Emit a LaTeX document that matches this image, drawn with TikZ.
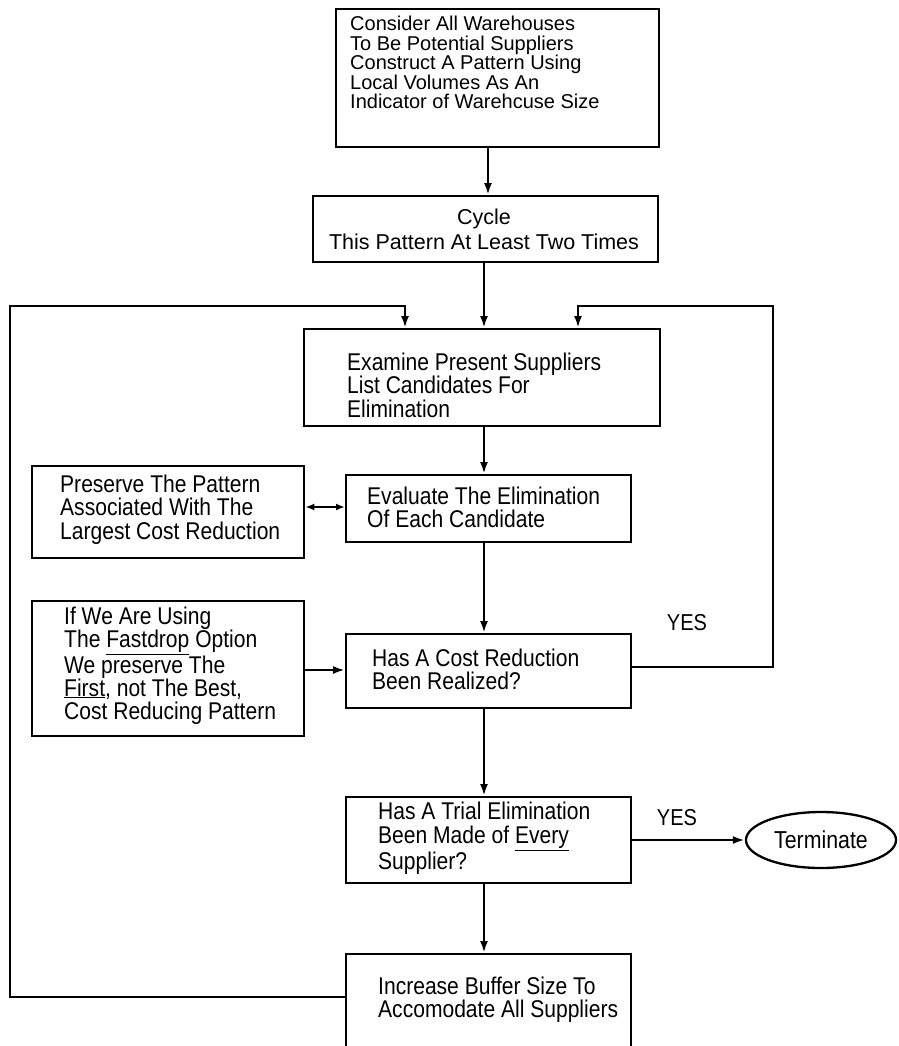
\documentclass[tikz,border=0pt]{standalone}
\usepackage{fontspec}
\setmainfont{Liberation Sans}[FakeBold=0.5]
\newfontfamily\fb{Liberation Sans}[FakeStretch=0.87]
\newfontfamily\fa{Liberation Sans}
\usetikzlibrary{arrows.meta,shapes.geometric,calc}
\begin{document}
\begin{tikzpicture}[x=1pt,y=-1pt,
  box/.style={draw, line width=2.3pt, inner sep=0pt, anchor=north west},
  txt/.style={inner sep=0pt, anchor=base west, align=left, font=\fb\fontsize{24.2}{23.5}\selectfont},
  arr/.style={line width=2.8pt, -{Latex[length=12pt,width=8pt]}},
  arrtwo/.style={line width=2.8pt, {Latex[length=9pt,width=7pt]}-{Latex[length=9pt,width=7pt]}},
  yes/.style={inner sep=0pt, font=\fb\fontsize{23}{23}\selectfont}]
\useasboundingbox (0,0) rectangle (898,1046);
\fill[white] (0,0) rectangle (898,1046);
% boxes
\node[box, minimum width=323pt, minimum height=138pt] (b1) at (335,8) {};
\node[inner sep=0pt, anchor=base west, align=left, font=\fa\fontsize{20}{19.5}\selectfont] (t1) at (350,109)
 {Consider All Warehouses\\To Be Potential Suppliers\\Construct A Pattern Using\\Local Volumes As An\\Indicator of Warehcuse Size};
\node[box, minimum width=345pt, minimum height=66pt] (b2) at (312,195) {};
\node[inner sep=0pt, anchor=base, align=center, font=\fa\fontsize{21.5}{25}\selectfont] (t2) at (484,249)
 {Cycle\\This Pattern At Least Two Times};
\node[box, minimum width=356pt, minimum height=97pt] (b3) at (303,328) {};
\node[txt] (t3) at (347,417) {Examine Present Suppliers\\List Candidates For\\Elimination};
\node[box, minimum width=272pt, minimum height=92pt] (pr) at (31,465) {};
\node[txt] (t4) at (60,539) {Preserve The Pattern\\Associated With The\\Largest Cost Reduction};
\node[box, minimum width=285pt, minimum height=67pt] (ev) at (345,474) {};
\node[txt] (t5) at (367,527.5) {Evaluate The Elimination\\Of Each Candidate};
\node[box, minimum width=272pt, minimum height=135pt] (if) at (31,600) {};
\node[txt, font=\fb\fontsize{24.2}{23}\selectfont] (t6) at (64,719) {If We Are Using\\The \underline{Fastdrop} Option\\We preserve The\\\underline{First}, not The Best,\\Cost Reducing Pattern};
\node[box, minimum width=285pt, minimum height=74pt] (hc) at (345,633) {};
\node[txt] (t7) at (372,689.5) {Has A Cost Reduction\\Been Realized?};
\node[box, minimum width=285pt, minimum height=86pt] (ht) at (345,796) {};
\node[txt] (t8) at (378,869) {Has A Trial Elimination\\Been Made of \underline{Every}\\Supplier?};
\node[box, minimum width=285pt, minimum height=110pt] (inc) at (345,953) {};
\node[txt] (t9) at (378,1017.5) {Increase Buffer Size To\\Accomodate All Suppliers};
\node[draw, line width=2.3pt, ellipse, minimum width=150pt, minimum height=56pt, inner sep=0pt,
  font=\fb\fontsize{24.5}{24.5}\selectfont] (term) at (821,840) {Terminate};
\node[yes] (y1) at (687,623) {YES};
\node[yes] (y2) at (677,818) {YES};
% helper coordinates
\coordinate (m1) at (488,0);
\coordinate (m) at (484,0);
\coordinate (lt) at (0,306);
\coordinate (rx) at (773,0);
\coordinate (lx) at (10,0);
\coordinate (ra) at (578,0);
\coordinate (la) at (405,0);
\coordinate (yd) at (0,507);
\coordinate (yr) at (0,667);
\coordinate (yi) at (0,670);
\coordinate (yb) at (0,997);
% connectors
\draw[arr] (b1.south -| m1) -- (b2.north -| m1);
\draw[arr] (b2.south -| m) -- (b3.north -| m);
\draw[arr] (b3.south -| m) -- (ev.north -| m);
\draw[arr] (ev.south -| m) -- (hc.north -| m);
\draw[arr] (hc.south -| m) -- (ht.north -| m);
\draw[arr] (ht.south -| m) -- (inc.north -| m);
\draw[arrtwo] (pr.east |- yd) -- (ev.west |- yd);
\draw[arr] (if.east |- yi) -- (hc.west |- yi);
\draw[arr] (ht.east |- term) -- (term.west);
\draw[arr] (hc.east |- yr) -- (rx |- yr) -- (rx |- lt) -- (ra |- lt) -- (b3.north -| ra);
\draw[arr] (inc.west |- yb) -- (lx |- yb) -- (lx |- lt) -- (la |- lt) -- (b3.north -| la);
\end{tikzpicture}
\end{document}
